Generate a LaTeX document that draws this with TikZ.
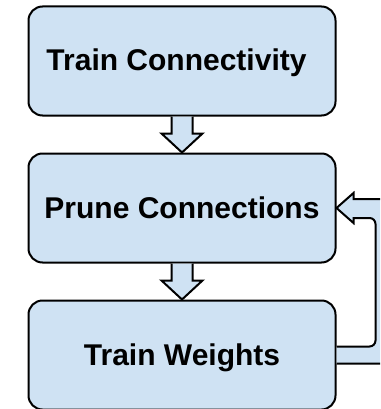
\documentclass[tikz,border=0pt]{standalone}
\usepackage{fontspec}
\setmainfont{Liberation Sans}
\usepackage{tikz}
\usetikzlibrary{positioning}
\definecolor{boxblue}{RGB}{207,226,243}

\begin{document}
\begin{tikzpicture}[
  stage/.style={draw=black, line width=2pt, fill=boxblue, rounded corners=14pt,
    minimum width=307pt, minimum height=109pt, inner sep=0pt,
    text height=20pt, text depth=0pt,
    font=\fontsize{30}{36}\selectfont\bfseries},
  blockarrow/.style={draw=black, line width=2pt, fill=boxblue, line join=miter}]
\useasboundingbox (0,0) rectangle (380pt,-409pt);
\clip (0,0) rectangle (380pt,-409pt);
\node [stage] (tc) at (182pt,-61pt) {Train Connectivity\hspace*{11pt}};
\node [stage, below=36pt of tc] (pc) {Prune Connections};
\node [stage, below=36pt of pc] (tw) {Train Weights};
\draw [blockarrow] ([xshift=-10.5pt]tc.south) -- ([xshift=-10.5pt,yshift=-17pt]tc.south)
  -- ([xshift=-20.5pt,yshift=-17pt]tc.south) -- (pc.north)
  -- ([xshift=20.5pt,yshift=-17pt]tc.south) -- ([xshift=10.5pt,yshift=-17pt]tc.south)
  -- ([xshift=10.5pt]tc.south);
\draw [blockarrow] ([xshift=-10.5pt]pc.south) -- ([xshift=-10.5pt,yshift=-17pt]pc.south)
  -- ([xshift=-20.5pt,yshift=-17pt]pc.south) -- (tw.north)
  -- ([xshift=20.5pt,yshift=-17pt]pc.south) -- ([xshift=10.5pt,yshift=-17pt]pc.south)
  -- ([xshift=10.5pt]pc.south);
\draw [blockarrow] ([yshift=8.5pt]tw.east) [rounded corners=6pt]
  -- ([xshift=39pt,yshift=8.5pt]tw.east) -- ([xshift=39pt,yshift=-10pt]pc.east)
  [sharp corners] -- ([xshift=17pt,yshift=-10pt]pc.east) -- ([xshift=17pt,yshift=-15pt]pc.east)
  -- (pc.east) -- ([xshift=17pt,yshift=15pt]pc.east) -- ([xshift=17pt,yshift=9pt]pc.east)
  [rounded corners=6pt] -- ([xshift=56pt,yshift=9pt]pc.east) -- ([xshift=56pt,yshift=-8.5pt]tw.east)
  [sharp corners] -- ([yshift=-8.5pt]tw.east);
\end{tikzpicture}
\end{document}
